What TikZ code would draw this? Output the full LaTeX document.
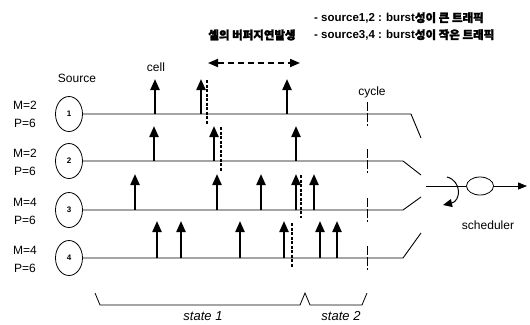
\documentclass[tikz,border=0pt]{standalone}
\usepackage{fontspec}
\setmainfont{Liberation Sans}
\newfontfamily\kr{Noto Sans CJK KR}[FakeBold=2]
\usetikzlibrary{arrows.meta,shapes.geometric}
\tikzset{
  lbl/.style={font=\fontsize{12}{14}\selectfont, inner sep=0pt},
  src/.style={ellipse, draw, line width=0.8pt, minimum width=27pt, minimum height=35pt, inner sep=0pt, font=\fontsize{8}{9}\selectfont\bfseries},
  rowline/.style={line width=0.9pt},
  cellarr/.style={line width=2.2pt, -{Triangle[length=11pt,width=9pt]}},
  delay/.style={line width=1.3pt, dash pattern=on 3pt off 1.5pt},
  cyc/.style={line width=0.8pt, dash pattern=on 9pt off 2pt},
  leg/.style={font=\fontsize{11.5}{13}\selectfont\bfseries, inner sep=0pt},
  st/.style={font=\fontsize{13}{15}\selectfont\itshape, inner sep=0pt}
}
\begin{document}
\begin{tikzpicture}[x=1pt,y=-1pt]
\useasboundingbox (0,0) rectangle (530,324);
% legend
\node[leg, anchor=west] (leg1) at (314,18) {- source1,2 : burst{\kr 성이 큰 트래픽}};
\node[leg, anchor=west] (leg2) at (314,35) {- source3,4 : burst{\kr 성이 작은 트래픽}};
\node[leg] (delaytxt) at (252,35) {\kr 셀의 버퍼지연발생};
\coordinate (dl) at (208,63);
\coordinate (dr) at (300,63);
\draw[line width=1.8pt, dash pattern=on 6pt off 4pt, {Triangle[length=10pt,width=8pt]}-{Triangle[length=10pt,width=8pt]}] (dl) -- (dr);
% labels
\node[lbl] (source) at (77,78) {Source};
\node[lbl] (cell) at (156,67) {cell};
\node[lbl] (cycle) at (372,92) {cycle};
\node[lbl] (m1) at (25,105) {M=2};
\node[lbl] (p1) at (25,123) {P=6};
\node[lbl] (m2) at (25,153) {M=2};
\node[lbl] (p2) at (25,171) {P=6};
\node[lbl] (m3) at (25,202) {M=4};
\node[lbl] (p3) at (25,220) {P=6};
\node[lbl] (m4) at (25,250) {M=4};
\node[lbl] (p4) at (25,268) {P=6};
% sources
\node[src] (s1) at (69,114) {1};
\node[src] (s2) at (69,161) {2};
\node[src] (s3) at (69,210) {3};
\node[src] (s4) at (69,258) {4};
% row lines
\coordinate (e1) at (411,114); \coordinate (f1) at (421,138);
\coordinate (e2) at (403,161); \coordinate (f2) at (421,175);
\coordinate (e3) at (403,210); \coordinate (f3) at (421,197);
\coordinate (e4) at (403,258); \coordinate (f4) at (421,233);
\draw[rowline] (s1.east) -- (e1) -- (f1);
\draw[rowline] (s2.east) -- (e2) -- (f2);
\draw[rowline] (s3.east) -- (e3) -- (f3);
\draw[rowline] (s4.east) -- (e4) -- (f4);
% cycle marks
\foreach \y in {114,161,210,258}{
  \draw[cyc] (367,\y-12) -- (367,\y+12);
}
% cells row 1
\foreach \x in {155,201,287}{ \draw[cellarr] (\x,114) -- (\x,79); }
\draw[delay] (207,80) -- (207,124);
% row 2
\foreach \x in {154,214,296}{ \draw[cellarr] (\x,161) -- (\x,126); }
\draw[delay] (221,127) -- (221,171);
% row 3
\foreach \x in {135,217,261,296,314}{ \draw[cellarr] (\x,210) -- (\x,174); }
\draw[delay] (301,175) -- (301,218);
% row 4
\foreach \x in {157,181,240,284,320,337}{ \draw[cellarr] (\x,258) -- (\x,221); }
\draw[delay] (292,223) -- (292,267);
% scheduler
\node[ellipse, draw, line width=0.8pt, minimum width=27pt, minimum height=18pt, inner sep=0pt] (sch) at (480,186) {};
\coordinate (sin) at (426,186);
\coordinate (sout) at (527,186);
\draw[line width=0.8pt] (sin) -- (sch.west);
\draw[line width=0.8pt, -{Triangle[length=9pt,width=7pt]}] (sch.east) -- (sout);
\coordinate (r1) at (447,177);
\coordinate (r2) at (443,205);
\draw[line width=1pt, -{Triangle[length=9pt,width=8pt]}] (r1) .. controls (462,181) and (461,201) .. (r2);
\node[lbl] (schl) at (488,225) {scheduler};
% brace
\coordinate (b0) at (95,293); \coordinate (b1) at (100,305); \coordinate (b2) at (300,305);
\coordinate (b3) at (305,293); \coordinate (b4) at (310,305); \coordinate (b5) at (362,305);
\coordinate (b6) at (367,293);
\draw[line width=0.8pt] (b0) -- (b1) -- (b2) -- (b3) -- (b4) -- (b5) -- (b6);
\node[st] (st1) at (203,316) {state 1};
\node[st] (st2) at (341,316) {state 2};
\end{tikzpicture}
\end{document}
